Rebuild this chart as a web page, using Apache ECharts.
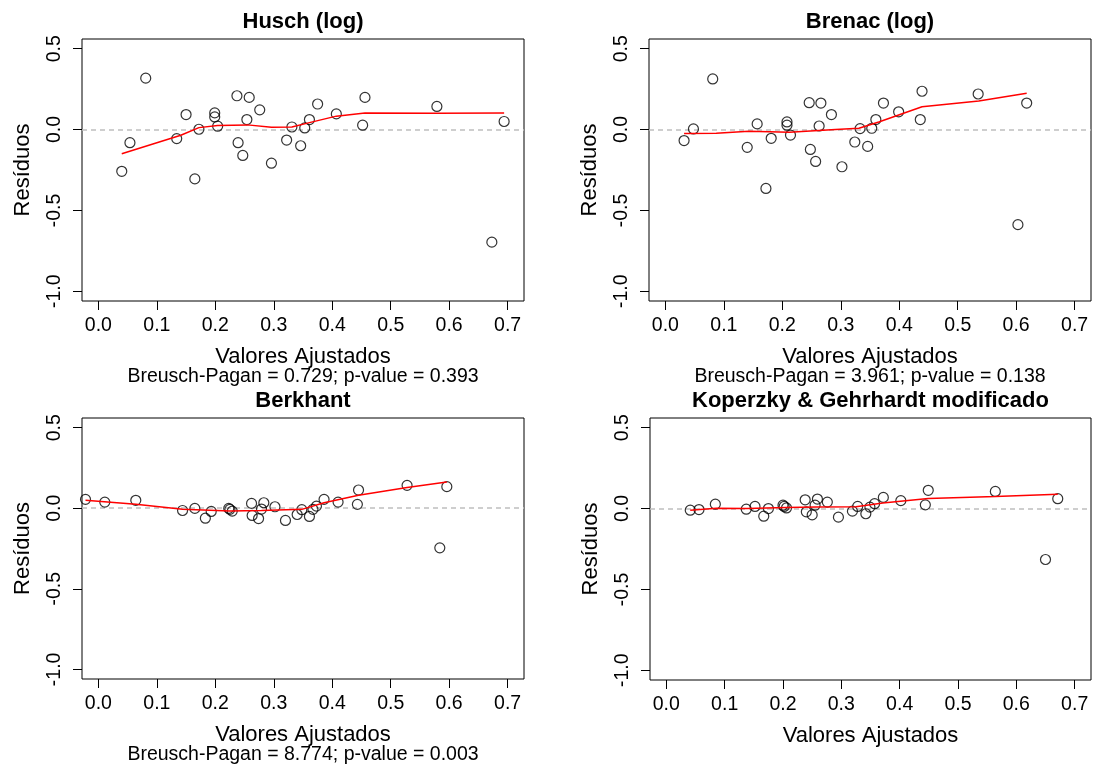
<!DOCTYPE html>
<html><head><meta charset="utf-8">
<script src="https://cdn.jsdelivr.net/npm/echarts@6/dist/echarts.min.js"></script>
<style>html,body{margin:0;padding:0;background:#fff}#c{width:1094px;height:765px}</style>
</head><body><div id="c"></div>
<script>
const panelTitles = ["Husch (log)", "Brenac (log)", "Berkhant", "Koperzky & Gehrhardt modificado"];
const bpTexts = ["Breusch-Pagan = 0.729; p-value = 0.393", "Breusch-Pagan = 3.961; p-value = 0.138", "Breusch-Pagan = 8.774; p-value = 0.003", ""];
const xLabel = "Valores Ajustados";
const yLabel = "Resíduos";
const xTicks = [0, 0.1, 0.2, 0.3, 0.4, 0.5, 0.6, 0.7];
const yTicks = [-1.0, -0.5, 0.0, 0.5];

// Husch (log)
const huschX = [0.040, 0.054, 0.081, 0.134, 0.150, 0.165, 0.172, 0.199, 0.199, 0.204, 0.237, 0.239, 0.247, 0.254, 0.258, 0.276, 0.296, 0.322, 0.331, 0.346, 0.353, 0.361, 0.375, 0.407, 0.452, 0.456, 0.579, 0.673, 0.694];
const huschY = [-0.258, -0.081, 0.318, -0.056, 0.093, -0.305, 0.002, 0.103, 0.078, 0.021, 0.209, -0.081, -0.160, 0.062, 0.199, 0.122, -0.208, -0.065, 0.016, -0.100, 0.010, 0.062, 0.158, 0.097, 0.027, 0.199, 0.143, -0.696, 0.050];
const huschSmoothX = [0.040, 0.141, 0.172, 0.204, 0.255, 0.296, 0.331, 0.361, 0.407, 0.456, 0.579, 0.694];
const huschSmoothY = [-0.149, -0.035, 0.012, 0.025, 0.029, 0.014, 0.016, 0.043, 0.083, 0.103, 0.101, 0.103];

// Brenac (log)
const brenacX = [0.032, 0.048, 0.081, 0.140, 0.157, 0.172, 0.181, 0.208, 0.208, 0.214, 0.246, 0.248, 0.257, 0.263, 0.266, 0.284, 0.302, 0.324, 0.333, 0.346, 0.353, 0.360, 0.373, 0.399, 0.436, 0.439, 0.535, 0.603, 0.618];
const brenacY = [-0.068, 0.004, 0.313, -0.110, 0.035, -0.364, -0.054, 0.047, 0.027, -0.034, 0.166, -0.123, -0.197, 0.022, 0.164, 0.093, -0.230, -0.077, 0.006, -0.104, 0.008, 0.062, 0.164, 0.110, 0.062, 0.237, 0.220, -0.588, 0.164];
const brenacSmoothX = [0.032, 0.087, 0.143, 0.212, 0.291, 0.331, 0.365, 0.439, 0.536, 0.618];
const brenacSmoothY = [-0.025, -0.023, -0.011, -0.017, 0.000, 0.008, 0.047, 0.141, 0.176, 0.224];

// Berkhant
const berkhantX = [-0.022, 0.011, 0.064, 0.144, 0.165, 0.183, 0.193, 0.223, 0.225, 0.229, 0.262, 0.263, 0.274, 0.279, 0.283, 0.302, 0.320, 0.340, 0.348, 0.361, 0.367, 0.373, 0.386, 0.410, 0.443, 0.445, 0.528, 0.584, 0.596];
const berkhantY = [0.055, 0.038, 0.049, -0.014, -0.001, -0.062, -0.020, -0.001, -0.007, -0.018, 0.030, -0.045, -0.064, -0.005, 0.034, 0.009, -0.076, -0.039, -0.009, -0.051, -0.007, 0.013, 0.055, 0.038, 0.024, 0.113, 0.142, -0.246, 0.134];
const berkhantSmoothX = [-0.022, 0.064, 0.144, 0.225, 0.279, 0.348, 0.386, 0.445, 0.528, 0.596];
const berkhantSmoothY = [0.050, 0.024, -0.007, -0.018, -0.014, -0.007, 0.034, 0.080, 0.128, 0.163];

// Koperzky & Gehrhardt modificado
const koperzkyX = [0.041, 0.056, 0.084, 0.137, 0.152, 0.167, 0.175, 0.200, 0.202, 0.206, 0.238, 0.240, 0.250, 0.255, 0.259, 0.276, 0.295, 0.319, 0.328, 0.342, 0.349, 0.357, 0.372, 0.402, 0.444, 0.449, 0.564, 0.650, 0.671];
const koperzkyY = [-0.010, -0.006, 0.027, -0.004, 0.013, -0.047, 0.000, 0.021, 0.013, 0.004, 0.054, -0.020, -0.039, 0.021, 0.059, 0.040, -0.053, -0.016, 0.013, -0.032, 0.009, 0.030, 0.069, 0.049, 0.023, 0.113, 0.106, -0.315, 0.061];
const koperzkySmoothX = [0.041, 0.086, 0.138, 0.206, 0.257, 0.325, 0.371, 0.449, 0.564, 0.671];
const koperzkySmoothY = [-0.010, 0.002, 0.000, 0.007, 0.009, 0.011, 0.034, 0.063, 0.075, 0.088];

const panels = [
  {x: huschX, y: huschY, sx: huschSmoothX, sy: huschSmoothY},
  {x: brenacX, y: brenacY, sx: brenacSmoothX, sy: brenacSmoothY},
  {x: berkhantX, y: berkhantY, sx: berkhantSmoothX, sy: berkhantSmoothY},
  {x: koperzkyX, y: koperzkyY, sx: koperzkySmoothX, sy: koperzkySmoothY}
];

const FONT = "'Liberation Sans', Arial, sans-serif";
const grids = [
  {left: 82, top: 39, width: 442, height: 262},
  {left: 649, top: 39, width: 442, height: 262},
  {left: 82, top: 418, width: 442, height: 261},
  {left: 650, top: 418, width: 441, height: 262}
];
const zip = (a, b) => a.map((v, i) => [v, b[i]]);

const option = {
  animation: false,
  backgroundColor: '#fff',
  title: [],
  grid: grids.map(g => Object.assign({show: true, borderColor: '#000', borderWidth: 1, backgroundColor: 'transparent', containLabel: false}, g)),
  xAxis: grids.map((g, i) => ({
    type: 'value', gridIndex: i, min: -0.028, max: 0.728, position: 'bottom',
    axisLine: {show: false, onZero: false},
    splitLine: {show: false},
    axisTick: {show: true, length: 9, inside: false, customValues: xTicks, lineStyle: {color: '#000', width: 1}},
    axisLabel: {show: true, customValues: xTicks, formatter: v => v.toFixed(1), fontSize: 19.5, color: '#000', fontFamily: FONT, margin: 14.5},
    name: xLabel, nameLocation: 'middle', nameGap: 45,
    nameTextStyle: {fontSize: 22, color: '#000', fontFamily: FONT}
  })),
  yAxis: grids.map((g, i) => ({
    type: 'value', gridIndex: i, min: -1.06, max: 0.56, position: 'left',
    axisLine: {show: false, onZero: false},
    splitLine: {show: false},
    axisTick: {show: true, length: 9, inside: false, customValues: yTicks, lineStyle: {color: '#000', width: 1}},
    axisLabel: {show: true, customValues: yTicks, rotate: 90, formatter: v => v.toFixed(1), fontSize: 19.5, color: '#000', fontFamily: FONT, margin: 17},
    name: yLabel, nameLocation: 'middle', nameRotate: 90, nameGap: 48,
    nameTextStyle: {fontSize: 22, color: '#000', fontFamily: FONT}
  })),
  series: []
};

grids.forEach((g, i) => {
  const cx = g.left + g.width / 2;
  option.title.push({
    text: panelTitles[i], left: cx, top: g.top - 28, textAlign: 'center', padding: 0,
    textStyle: {fontSize: 22, fontWeight: 'bold', color: '#000', fontFamily: FONT}
  });
  if (bpTexts[i]) {
    option.title.push({
      text: bpTexts[i], left: cx, top: g.top + g.height + 66, textAlign: 'center', padding: 0,
      textStyle: {fontSize: 19.5, fontWeight: 'normal', color: '#000', fontFamily: FONT}
    });
  }
  const p = panels[i];
  option.series.push({
    type: 'scatter', xAxisIndex: i, yAxisIndex: i, z: 2,
    data: zip(p.x, p.y),
    symbol: 'circle', symbolSize: 10,
    itemStyle: {color: 'rgba(0,0,0,0)', borderColor: '#000', borderWidth: 1.2},
    emphasis: {disabled: true},
    markLine: {
      silent: true, symbol: 'none', label: {show: false}, z: 1,
      lineStyle: {color: '#bebebe', type: [5, 4], width: 1.5},
      data: [{yAxis: 0}]
    }
  });
  option.series.push({
    type: 'line', xAxisIndex: i, yAxisIndex: i, z: 3,
    data: zip(p.sx, p.sy),
    showSymbol: false, symbol: 'none', smooth: false,
    lineStyle: {color: '#ff0000', width: 1.5},
    emphasis: {disabled: true}
  });
});

const chart = echarts.init(document.getElementById('c'), null, {renderer: 'canvas'});
chart.setOption(option);
</script>
</body></html>
